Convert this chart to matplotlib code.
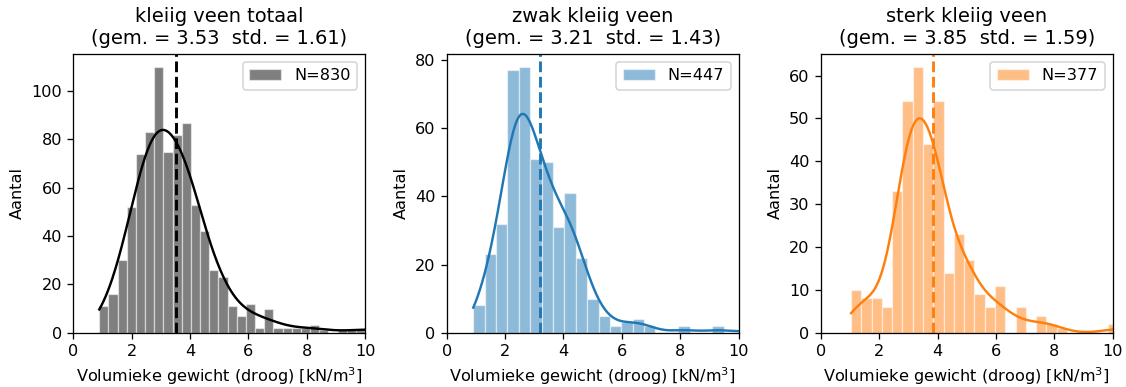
import numpy as np
import matplotlib.pyplot as plt

# bin counts per group (equal-width bins starting at bin_start)
titles = ["kleiig veen totaal", "zwak kleiig veen", "sterk kleiig veen"]
colors = ["black", "tab:blue", "tab:orange"]
means = [3.53, 3.21, 3.85]
stds = [1.61, 1.43, 1.59]
bin_start = [0.89, 0.91, 1.04]
bin_width = [0.314, 0.39, 0.352]
bw_adjust = [0.6, 0.5, 0.5]

counts_totaal = [11, 16, 30, 52, 74, 83, 110, 75, 82, 87, 53, 42, 26, 23, 11,
                 7, 12, 2, 10, 2, 2, 2, 2, 3, 1, 0, 1, 1, 1,
                 2, 1, 2, 1, 1, 2]
counts_zwak = [8, 23, 32, 77, 78, 51, 50, 31, 41, 22, 10, 5, 2, 3, 4, 2, 0, 0,
               2, 0, 0, 2, 0, 0, 1, 1, 0, 1, 1]
counts_sterk = [10, 8, 8, 6, 33, 54, 62, 44, 54, 14, 23, 17, 9, 6, 11, 0, 6, 0,
                4, 2, 1, 0, 0, 0, 0, 2, 0, 1, 1, 1]
all_counts = [counts_totaal, counts_zwak, counts_sterk]


def weighted_kde(centers, weights, grid, adjust=1.0):
    w = weights / weights.sum()
    mu = np.sum(w * centers)
    sd = np.sqrt(np.sum(w * (centers - mu) ** 2))
    neff = 1.0 / np.sum(w ** 2)
    bw = sd * neff ** (-1 / 5) * adjust
    z = (grid[:, None] - centers[None, :]) / bw
    dens = np.sum(w[None, :] * np.exp(-0.5 * z ** 2), axis=1) / (bw * np.sqrt(2 * np.pi))
    return dens


dpi = 116
fig = plt.figure(figsize=(1126 / dpi, 387 / dpi), dpi=dpi)
lefts = [0.0651, 0.3967, 0.7289]

for i in range(3):
    ax = fig.add_axes([lefts[i], 0.1403, 0.2593, 0.7209])
    counts = np.array(all_counts[i], dtype=float)
    edges = bin_start[i] + bin_width[i] * np.arange(len(counts) + 1)
    centers = 0.5 * (edges[:-1] + edges[1:])
    n = int(counts.sum())

    ax.bar(edges[:-1], counts, width=bin_width[i], align="edge",
           color=colors[i], alpha=0.5, edgecolor="white", linewidth=0.8,
           label=f"N={n}")

    grid = np.linspace(edges[0], edges[-1], 300)
    kde = weighted_kde(centers, counts, grid, bw_adjust[i]) * n * bin_width[i]
    ax.plot(grid, kde, color=colors[i], lw=1.5)

    ax.axvline(means[i], color=colors[i], ls="--", lw=1.8)

    ax.set_xlim(0, 10)
    ax.set_title(f"{titles[i]}\n(gem. = {means[i]:.2f}  std. = {stds[i]:.2f})",
                 fontsize=12)
    ax.set_xlabel("Volumieke gewicht (droog) [kN/m$^3$]")
    ax.set_ylabel("Aantal")
    ax.legend(loc="upper right")

fig.savefig("out.png", dpi=dpi)
